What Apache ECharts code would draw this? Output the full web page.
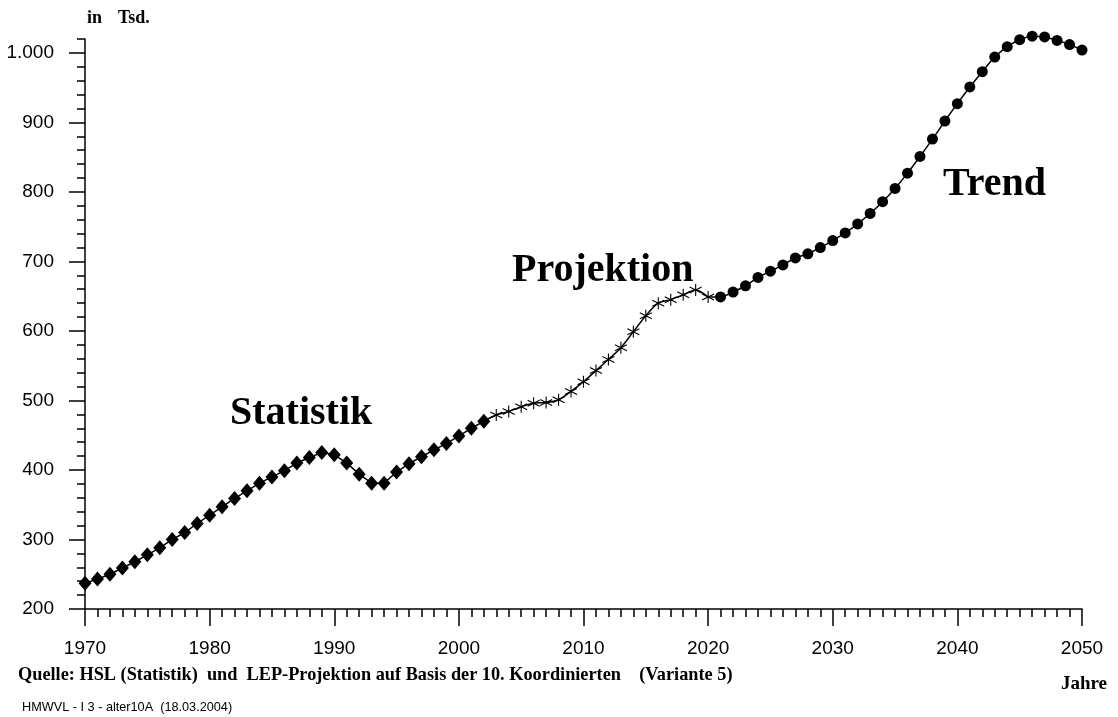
<!DOCTYPE html>
<html>
<head>
<meta charset="utf-8">
<style>
html,body{margin:0;padding:0;background:#fff;}
#chart{width:1118px;height:717px;}
</style>
<script src="https://cdn.jsdelivr.net/npm/echarts@6/dist/echarts.min.js"></script>
</head>
<body>
<div id="chart"></div>
<script>
// ---- data ----
const statYears = [1970,1971,1972,1973,1974,1975,1976,1977,1978,1979,1980,1981,1982,1983,1984,1985,1986,1987,1988,1989,1990,1991,1992,1993,1994,1995,1996,1997,1998,1999,2000,2001,2002];
const statValues = [237,243,250,259,268,278,288,300,310,323,335,347,359,370,381,390,399,410,418,425,422,410,394,381,381,397,409,419,429,438,449,460,470];
const projYears = [2003,2004,2005,2006,2007,2008,2009,2010,2011,2012,2013,2014,2015,2016,2017,2018,2019,2020];
const projValues = [479,484,491,496,497,501,513,527,543,559,576,599,622,640,645,652,659,649];
const trendYears = [2021,2022,2023,2024,2025,2026,2027,2028,2029,2030,2031,2032,2033,2034,2035,2036,2037,2038,2039,2040,2041,2042,2043,2044,2045,2046,2047,2048,2049,2050];
const trendValues = [649,656,665,677,686,695,705,711,720,730,741,754,769,786,805,827,851,876,902,927,951,973,994,1009,1019,1024,1023,1018,1012,1004];
const yMajorTicks = [200,300,400,500,600,700,800,900,1000];
const segmentLabels = ['Statistik','Projektion','Trend'];
const unitLabel = ['in','Tsd.'];
const xAxisTitle = 'Jahre';
const sourceText = 'Quelle: HSL (Statistik)  und  LEP-Projektion auf Basis der 10. Koordinierten    (Variante 5)';
const idText = 'HMWVL - I 3 - alter10A  (18.03.2004)';

// ---- build ----
const pairs = (xs, ys) => xs.map((x, i) => [x, ys[i]]);
const statData = pairs(statYears, statValues);
const projData = [{value: statData[statData.length - 1], symbol: 'none'}].concat(pairs(projYears, projValues));
const projLast = [projYears[projYears.length - 1], projValues[projValues.length - 1]];
const trendData = [{value: projLast, symbol: 'none'}].concat(pairs(trendYears, trendValues));

const fmt = v => v >= 1000 ? String(Math.floor(v / 1000)) + '.' + String(v % 1000).padStart(3, '0') : String(v);
const black = '#000';
const sansLabel = {color: black, fontFamily: 'Liberation Sans', fontSize: 19};
const star = 'path://M5,0L5,10M0.67,2.5L9.33,7.5M0.67,7.5L9.33,2.5';

const chart = echarts.init(document.getElementById('chart'), null, {renderer: 'canvas'});
const option = {
  backgroundColor: '#fff',
  animation: false,
  grid: {left: 85, right: 36, top: 39, bottom: 108, containLabel: false},
  xAxis: {
    type: 'value', min: 1970, max: 2050, interval: 10,
    axisLine: {show: true, lineStyle: {color: black, width: 1.5}},
    axisTick: {show: true, length: 17, lineStyle: {color: black, width: 1.5}},
    minorTick: {show: true, splitNumber: 10, length: 8, lineStyle: {color: black, width: 1.5}},
    splitLine: {show: false},
    axisLabel: Object.assign({margin: 30, formatter: v => String(v)}, sansLabel)
  },
  yAxis: [
    {
      type: 'value', min: 200, max: 1020, interval: 20,
      axisLine: {show: true, lineStyle: {color: black, width: 1.5}},
      axisTick: {show: true, length: 8, lineStyle: {color: black, width: 1.5}},
      splitLine: {show: false},
      axisLabel: Object.assign({margin: 31, formatter: v => (v % 100 === 0 ? fmt(v) : '')}, sansLabel)
    },
    {
      type: 'value', min: 200, max: 1020, interval: 20, position: 'left',
      axisLine: {show: false},
      axisTick: {show: true, length: 16, customValues: yMajorTicks, lineStyle: {color: black, width: 1.5}},
      splitLine: {show: false},
      axisLabel: {show: false}
    }
  ],
  series: [
    {
      type: 'line', data: statData, clip: false, smooth: false,
      symbol: 'diamond', symbolSize: [13, 15],
      lineStyle: {color: black, width: 1.5},
      itemStyle: {color: black}
    },
    {
      type: 'line', data: projData, clip: false, smooth: 0.3,
      symbol: star, symbolSize: 12,
      lineStyle: {color: black, width: 1.5},
      itemStyle: {color: 'rgba(0,0,0,0)', borderColor: black, borderWidth: 1.1}
    },
    {
      type: 'line', data: trendData, clip: false, smooth: 0.3,
      symbol: 'circle', symbolSize: 11,
      lineStyle: {color: black, width: 1.5},
      itemStyle: {color: black}
    }
  ],
  graphic: [
    {type: 'text', style: {text: segmentLabels[0], x: 230, y: 414, textVerticalAlign: 'middle', font: 'bold 40px "Liberation Serif"', fill: black}},
    {type: 'text', style: {text: segmentLabels[1], x: 512, y: 271, textVerticalAlign: 'middle', font: 'bold 40px "Liberation Serif"', fill: black}},
    {type: 'text', style: {text: segmentLabels[2], x: 943, y: 185, textVerticalAlign: 'middle', font: 'bold 40px "Liberation Serif"', fill: black}},
    {type: 'text', style: {text: unitLabel[0], x: 87, y: 18, textVerticalAlign: 'middle', font: 'bold 18px "Liberation Serif"', fill: black}},
    {type: 'text', style: {text: unitLabel[1], x: 118, y: 18, textVerticalAlign: 'middle', font: 'bold 18px "Liberation Serif"', fill: black}},
    {type: 'text', style: {text: xAxisTitle, x: 1107, y: 684, textAlign: 'right', textVerticalAlign: 'middle', font: 'bold 19px "Liberation Serif"', fill: black}},
    {type: 'text', style: {text: sourceText, x: 18, y: 675, textVerticalAlign: 'middle', font: 'bold 18.3px "Liberation Serif"', fill: black}},
    {type: 'text', style: {text: idText, x: 22, y: 707, textVerticalAlign: 'middle', font: '12.7px "Liberation Sans"', fill: black}}
  ]
};
chart.setOption(option);
</script>
</body>
</html>
